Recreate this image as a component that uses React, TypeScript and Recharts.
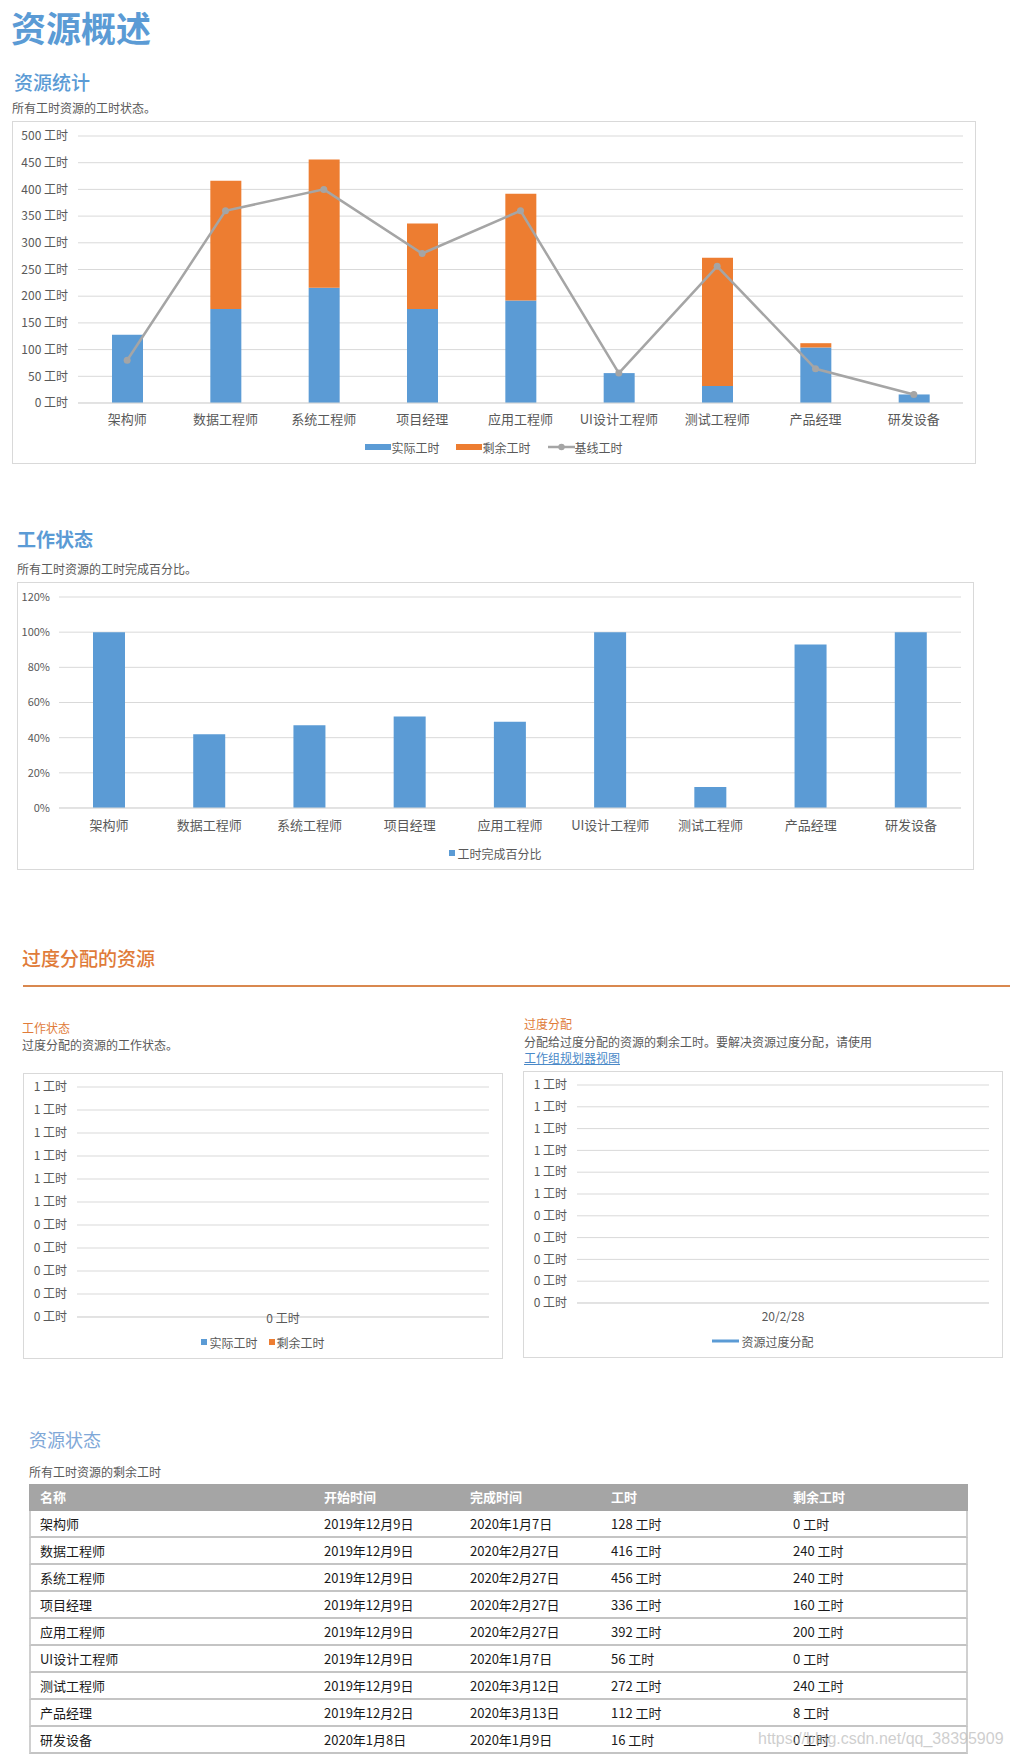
import React from 'react';
import {
  ComposedChart,
  BarChart,
  LineChart,
  Bar,
  Line,
  XAxis,
  YAxis,
  CartesianGrid,
  Legend,
} from 'recharts';

// ---------- data ----------
const categories = ['架构师', '数据工程师', '系统工程师', '项目经理', '应用工程师', 'UI设计工程师', '测试工程师', '产品经理', '研发设备'];
const actualWork = [128, 176, 216, 176, 192, 56, 32, 104, 16];
const remainingWork = [0, 240, 240, 160, 200, 0, 240, 8, 0];
const baselineWork = [80, 360, 400, 280, 360, 56, 256, 64, 16];
const workTicks = [0, 50, 100, 150, 200, 250, 300, 350, 400, 450, 500];

const completePct = [100, 42, 47, 52, 49, 100, 12, 93, 100];
const pctTicks = [0, 20, 40, 60, 80, 100, 120];

const overCategories = ['0 工时'];
const overActual = [0];
const overRemaining = [0];
const overDates = ['20/2/28'];
const overAllocation = [0];
const overTicks = [0, 0.1, 0.2, 0.3, 0.4, 0.5, 0.6, 0.7, 0.8, 0.9, 1];

const tableHeaders = ['名称', '开始时间', '完成时间', '工时', '剩余工时'];
const startDates = ['2019年12月9日', '2019年12月9日', '2019年12月9日', '2019年12月9日', '2019年12月9日', '2019年12月9日', '2019年12月9日', '2019年12月2日', '2020年1月8日'];
const finishDates = ['2020年1月7日', '2020年2月27日', '2020年2月27日', '2020年2月27日', '2020年2月27日', '2020年1月7日', '2020年3月12日', '2020年3月13日', '2020年1月9日'];
const totalWork = [128, 416, 456, 336, 392, 56, 272, 112, 16];

// ---------- styles ----------
const FONT = '"Noto Sans CJK SC", "Noto Sans", sans-serif';
const AXIS = '#595959';
const GRID = '#D9D9D9';
const BLUE = '#5B9BD5';
const ORANGE = '#ED7D31';
const GRAY = '#A5A5A5';

function Txt(props: { x: number; cy: number; size: number; color: string; weight?: number; underline?: boolean; children: React.ReactNode }) {
  const { x, cy, size, color, weight = 400, underline, children } = props;
  return (
    <div
      style={{
        position: 'absolute',
        left: x,
        top: cy - size * 0.78,
        fontSize: size,
        lineHeight: 'normal',
        color,
        fontWeight: weight,
        whiteSpace: 'nowrap',
        fontFamily: FONT,
        textDecoration: underline ? 'underline' : 'none',
      }}
    >
      {children}
    </div>
  );
}

type LegendItem = { label: string; color: string; kind: 'rect' | 'square' | 'line' | 'lineDot' };

function makeLegend(items: LegendItem[], gap: number) {
  return () => (
    <div
      style={{
        display: 'flex',
        justifyContent: 'center',
        alignItems: 'center',
        height: 18,
        fontFamily: FONT,
        fontSize: 12,
        color: AXIS,
        whiteSpace: 'nowrap',
      }}
    >
      {items.map((it, i) => (
        <div key={i} style={{ display: 'flex', alignItems: 'center', marginLeft: i ? gap : 0 }}>
          {it.kind === 'rect' && (
            <svg width={26} height={10}>
              <rect x={0} y={2} width={26} height={6} fill={it.color} />
            </svg>
          )}
          {it.kind === 'square' && (
            <svg width={6} height={10} style={{ marginRight: 2 }}>
              <rect x={0} y={2} width={6} height={6} fill={it.color} />
            </svg>
          )}
          {it.kind === 'lineDot' && (
            <svg width={27} height={10}>
              <line x1={0} y1={5} x2={27} y2={5} stroke={it.color} strokeWidth={2.5} />
              <circle cx={13.5} cy={5} r={3.2} fill={it.color} />
            </svg>
          )}
          {it.kind === 'line' && (
            <svg width={27} height={10} style={{ marginRight: 2 }}>
              <line x1={0} y1={5} x2={27} y2={5} stroke={it.color} strokeWidth={3} />
            </svg>
          )}
          <span style={{ lineHeight: 'normal' }}>{it.label}</span>
        </div>
      ))}
    </div>
  );
}

function Box(props: { left: number; top: number; width: number; height: number; children: React.ReactNode }) {
  const { left, top, width, height, children } = props;
  return (
    <div
      style={{
        position: 'absolute',
        left,
        top,
        width,
        height,
        border: '1px solid #D9D9D9',
        boxSizing: 'border-box',
        background: '#fff',
      }}
    >
      {children}
    </div>
  );
}

const yTick = { fill: AXIS, fontSize: 12, fontFamily: FONT };
const xTick = { fill: AXIS, fontSize: 13, fontFamily: FONT };

export default function App() {
  const mainData = categories.map((name, i) => ({
    name,
    actual: actualWork[i],
    remaining: remainingWork[i],
    baseline: baselineWork[i],
  }));
  const pctData = categories.map((name, i) => ({ name, pct: completePct[i] }));
  const overData = overCategories.map((name, i) => ({ name, actual: overActual[i], remaining: overRemaining[i] }));
  const overTimeData = overDates.map((date, i) => ({ date, over: overAllocation[i] }));

  const colStarts = [29, 313, 459, 600, 782];
  const tableRows = categories.map((name, i) => [
    name,
    startDates[i],
    finishDates[i],
    `${totalWork[i]} 工时`,
    `${remainingWork[i]} 工时`,
  ]);

  return (
    <div
      style={{
        position: 'absolute',
        left: 0,
        top: 0,
        width: 1010,
        height: 1757,
        overflow: 'hidden',
        background: '#fff',
        fontFamily: FONT,
      }}
    >
      {/* ===== Section 1 ===== */}
      <Txt x={11} cy={27.8} size={35} color={BLUE} weight={700}>资源概述</Txt>
      <Txt x={14} cy={82.5} size={19} color={BLUE} weight={500}>资源统计</Txt>
      <Txt x={12} cy={108.5} size={12} color={AXIS}>所有工时资源的工时状态。</Txt>

      <Box left={12} top={121} width={964} height={343}>
        <ComposedChart width={962} height={341} data={mainData} margin={{ top: 14, right: 12, bottom: 0, left: 0 }} barSize={31}>
          <CartesianGrid vertical={false} stroke={GRID} />
          <XAxis
            dataKey="name"
            height={42}
            tickLine={false}
            axisLine={{ stroke: GRID }}
            tickSize={0}
            tickMargin={12}
            interval={0}
            tick={xTick}
          />
          <YAxis
            width={65}
            domain={[0, 500]}
            ticks={workTicks}
            interval={0}
            tickLine={false}
            axisLine={false}
            tickSize={0}
            tickMargin={10}
            tick={yTick}
            tickFormatter={(v: number) => `${v} 工时`}
          />
          <Bar dataKey="actual" name="实际工时" stackId="w" fill={BLUE} isAnimationActive={false} />
          <Bar dataKey="remaining" name="剩余工时" stackId="w" fill={ORANGE} isAnimationActive={false} />
          <Line
            dataKey="baseline"
            name="基线工时"
            type="linear"
            stroke={GRAY}
            strokeWidth={2.5}
            dot={{ r: 3.5, fill: GRAY, stroke: GRAY, strokeWidth: 0 }}
            isAnimationActive={false}
          />
          <Legend
            verticalAlign="bottom"
            wrapperStyle={{ top: 316, left: 0, width: 962, height: 18 }}
            content={makeLegend(
              [
                { label: '实际工时', color: BLUE, kind: 'rect' },
                { label: '剩余工时', color: ORANGE, kind: 'rect' },
                { label: '基线工时', color: GRAY, kind: 'lineDot' },
              ],
              17
            )}
          />
        </ComposedChart>
      </Box>

      {/* ===== Section 2 ===== */}
      <Txt x={17} cy={540} size={19} color={BLUE} weight={700}>工作状态</Txt>
      <Txt x={17} cy={569} size={12} color={AXIS}>所有工时资源的工时完成百分比。</Txt>

      <Box left={17} top={582} width={957} height={288}>
        <BarChart width={955} height={286} data={pctData} margin={{ top: 14, right: 12, bottom: 0, left: 0 }} barSize={32}>
          <CartesianGrid vertical={false} stroke={GRID} />
          <XAxis
            dataKey="name"
            height={43}
            tickLine={false}
            axisLine={{ stroke: GRID }}
            tickSize={0}
            tickMargin={13}
            interval={0}
            tick={xTick}
          />
          <YAxis
            width={41}
            domain={[0, 120]}
            ticks={pctTicks}
            interval={0}
            tickLine={false}
            axisLine={false}
            tickSize={0}
            tickMargin={9}
            tick={{ fill: AXIS, fontSize: 11, fontFamily: FONT }}
            tickFormatter={(v: number) => `${v}%`}
          />
          <Bar dataKey="pct" name="工时完成百分比" fill={BLUE} isAnimationActive={false} />
          <Legend
            verticalAlign="bottom"
            wrapperStyle={{ top: 261, left: 0, width: 955, height: 18 }}
            content={makeLegend([{ label: '工时完成百分比', color: BLUE, kind: 'square' }], 0)}
          />
        </BarChart>
      </Box>

      {/* ===== Section 3 ===== */}
      <Txt x={22} cy={959} size={19} color="#E07B39" weight={500}>过度分配的资源</Txt>
      <div style={{ position: 'absolute', left: 23, top: 985, width: 987, height: 2, background: '#D9884F' }} />

      <Txt x={22} cy={1028} size={12} color="#E07B39">工作状态</Txt>
      <Txt x={22} cy={1045} size={12} color={AXIS}>过度分配的资源的工作状态。</Txt>

      <Box left={23} top={1073} width={480} height={286}>
        <BarChart width={478} height={284} data={overData} margin={{ top: 13, right: 13, bottom: 0, left: 0 }} barSize={40}>
          <CartesianGrid vertical={false} stroke={GRID} />
          <XAxis
            dataKey="name"
            height={23}
            tickLine={false}
            axisLine={{ stroke: GRID }}
            tickSize={0}
            tickMargin={0}
            interval={0}
            tick={(p: any) => (
              <text
                x={p.x}
                y={p.y}
                textAnchor="middle"
                dominantBaseline="central"
                fill={AXIS}
                fontSize={12}
                fontFamily={FONT}
              >
                {p.payload.value}
              </text>
            )}
          />
          <YAxis
            width={53}
            domain={[0, 1]}
            ticks={overTicks}
            interval={0}
            tickLine={false}
            axisLine={false}
            tickSize={0}
            tickMargin={10}
            tick={yTick}
            tickFormatter={(v: number) => `${Math.round(v)} 工时`}
          />
          <Bar dataKey="actual" name="实际工时" stackId="o" fill={BLUE} isAnimationActive={false} />
          <Bar dataKey="remaining" name="剩余工时" stackId="o" fill={ORANGE} isAnimationActive={false} />
          <Legend
            verticalAlign="bottom"
            wrapperStyle={{ top: 259, left: 0, width: 478, height: 18 }}
            content={makeLegend(
              [
                { label: '实际工时', color: BLUE, kind: 'square' },
                { label: '剩余工时', color: ORANGE, kind: 'square' },
              ],
              11
            )}
          />
        </BarChart>
      </Box>

      <Txt x={524} cy={1024} size={12} color="#E07B39">过度分配</Txt>
      <Txt x={524} cy={1042} size={12} color={AXIS}>分配给过度分配的资源的剩余工时。要解决资源过度分配，请使用</Txt>
      <Txt x={524} cy={1058} size={12} color="#4A89C8" underline>工作组规划器视图</Txt>

      <Box left={523} top={1071} width={480} height={287}>
        <LineChart width={478} height={285} data={overTimeData} margin={{ top: 13, right: 13, bottom: 0, left: 0 }}>
          <CartesianGrid vertical={false} stroke={GRID} />
          <XAxis
            dataKey="date"
            height={36}
            tickLine={false}
            axisLine={{ stroke: GRID }}
            tickSize={0}
            tickMargin={9}
            interval={0}
            tick={yTick}
          />
          <YAxis
            width={53}
            domain={[0, 1]}
            ticks={overTicks}
            interval={0}
            tickLine={false}
            axisLine={false}
            tickSize={0}
            tickMargin={10}
            tick={yTick}
            tickFormatter={(v: number) => `${Math.round(v)} 工时`}
          />
          <Line
            dataKey="over"
            name="资源过度分配"
            stroke={BLUE}
            strokeWidth={2.5}
            dot={(p: any) => <g key={`d${p.index}`} />}
            activeDot={false}
            isAnimationActive={false}
          />
          <Legend
            verticalAlign="bottom"
            wrapperStyle={{ top: 260, left: 0, width: 478, height: 18 }}
            content={makeLegend([{ label: '资源过度分配', color: BLUE, kind: 'line' }], 0)}
          />
        </LineChart>
      </Box>

      {/* ===== Section 4 ===== */}
      <Txt x={29} cy={1440} size={18} color="#7FA8D8" weight={400}>资源状态</Txt>
      <Txt x={29} cy={1472} size={12} color={AXIS}>所有工时资源的剩余工时</Txt>

      <div
        style={{
          position: 'absolute',
          left: 29,
          top: 1484,
          width: 939,
          height: 27,
          background: '#A5A5A5',
        }}
      />
      {tableHeaders.map((h, c) => (
        <Txt key={`h${c}`} x={colStarts[c] + 11} cy={1497.5} size={13} color="#fff" weight={700}>
          {h}
        </Txt>
      ))}
      {tableRows.map((row, r) => (
        <React.Fragment key={`r${r}`}>
          <div
            style={{
              position: 'absolute',
              left: 29,
              top: 1511 + r * 27,
              width: 939,
              height: 27,
              boxSizing: 'border-box',
              borderLeft: '2px solid #D0D0D0',
              borderRight: '2px solid #D0D0D0',
              borderBottom: '2px solid #C4C4C4',
            }}
          />
          {row.map((cell, c) => (
            <Txt key={`c${r}-${c}`} x={colStarts[c] + 11} cy={1524 + r * 27} size={13} color="#1A1A1A">
              {cell}
            </Txt>
          ))}
        </React.Fragment>
      ))}

      <div
        style={{
          position: 'absolute',
          left: 758,
          top: 1729,
          fontSize: 16,
          lineHeight: '20px',
          color: 'rgba(190,190,190,0.75)',
          fontFamily: '"Liberation Sans", Arial, sans-serif',
          whiteSpace: 'nowrap',
        }}
      >
        https://blog.csdn.net/qq_38395909
      </div>
    </div>
  );
}
